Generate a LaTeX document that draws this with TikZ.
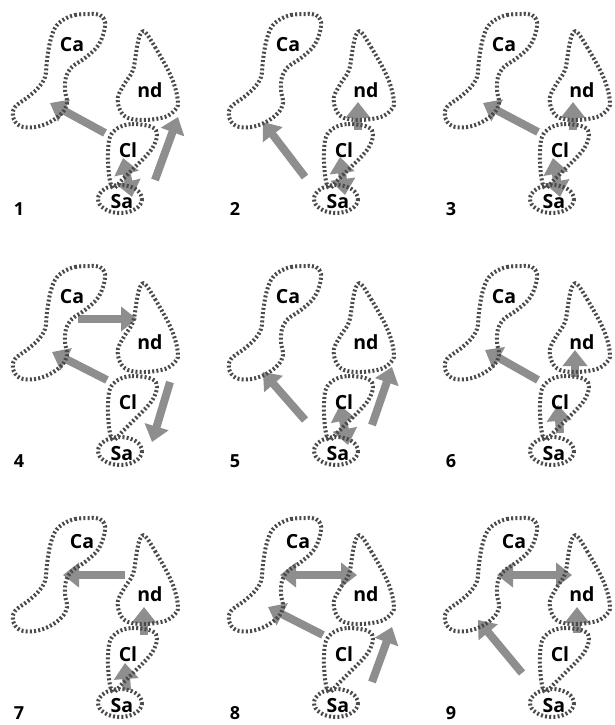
\documentclass[tikz,border=0pt]{standalone}
\usepackage{fontspec}
\setmainfont{Open Sans}
\usetikzlibrary{arrows.meta}
\definecolor{arr}{HTML}{8E8E8E}
\definecolor{dotc}{HTML}{4A4A4A}
\tikzset{
  blob/.style={draw=dotc, line width=4pt, dash pattern=on 2pt off 2.2pt},
  garrow/.style={draw=arr, line width=8pt, -{Triangle[length=16pt,width=24pt]}},
  gdouble/.style={draw=arr, line width=8pt, {Triangle[length=16pt,width=24pt]}-{Triangle[length=16pt,width=24pt]}},
  lab/.style={font=\bfseries\fontsize{19.5}{19.5}\selectfont, inner sep=0pt},
  num/.style={font=\bfseries\fontsize{18}{18}\selectfont, inner sep=0pt},
}
\newcommand\garr[4]{\coordinate (#1t) at #2; \coordinate (#1h) at #3; \draw[#4] (#1t) -- (#1h);}
\newcommand\drawblobs[1]{%
  \draw[blob] plot[smooth cycle, tension=0.6] coordinates {(63,20) (75,15) (90,14) (100,15) (105,22) (103,35) (97,47) (85,58) (72,67) (66,77) (65,90) (67,103) (62,113) (50,122) (35,127) (20,126) (13,117) (15,107) (28,97) (38,88) (45,77) (47,60) (50,42) (55,28)};
  \draw[blob] plot[smooth cycle, tension=0.6] coordinates {(145,32) (155,47) (168,70) (175,87) (178,103) (175,110) (165,117) (145,120) (128,118) (120,110) (118,97) (125,83) (133,70) (137,47) (140,35)};
  \draw[blob] plot[smooth cycle, tension=0.6] coordinates {(118,128) (132,124) (152,127) (157,135) (153,147) (145,157) (135,167) (122,180) (113,188) (109,175) (108,153) (110,137)};
  \draw[blob] (120,199) ellipse [x radius=22, y radius=14];
}
\begin{document}
\begin{tikzpicture}[x=1pt, y=-1pt]
\useasboundingbox (0,0) rectangle (615,725);
% ---- arrows (drawn first, outlines on top)
\begin{scope}[shift={(0,0)}]
  \garr{p1a}{(105,133)}{(50,103)}{garrow}
  \garr{p1b}{(155,180)}{(178,117)}{garrow}
  \garr{p1c}{(123,158)}{(132,197)}{gdouble}
\end{scope}
\begin{scope}[shift={(216,0)}]
  \garr{p2a}{(89,177)}{(47,122)}{garrow}
  \garr{p2b}{(142,130)}{(142,102)}{garrow}
  \garr{p2c}{(124,157)}{(129,195)}{gdouble}
\end{scope}
\begin{scope}[shift={(432,0)}]
  \garr{p3a}{(106,132)}{(51,103)}{garrow}
  \garr{p3b}{(141,130)}{(141,102)}{garrow}
  \garr{p3c}{(121,158)}{(128,197)}{gdouble}
\end{scope}
\begin{scope}[shift={(0,252)}]
  \garr{p4a}{(78,67)}{(137,67)}{garrow}
  \garr{p4b}{(107,128)}{(52,100)}{garrow}
  \garr{p4c}{(170,130)}{(152,190)}{garrow}
\end{scope}
\begin{scope}[shift={(216,252)}]
  \garr{p5a}{(89,168)}{(47,120)}{garrow}
  \garr{p5b}{(156,173)}{(176,115)}{garrow}
  \garr{p5c}{(124,153)}{(132,193)}{gdouble}
\end{scope}
\begin{scope}[shift={(432,252)}]
  \garr{p6a}{(106,128)}{(53,98)}{garrow}
  \garr{p6b}{(143,125)}{(143,98)}{garrow}
  \garr{p6c}{(128,181)}{(126,153)}{garrow}
\end{scope}
\begin{scope}[shift={(0,504)}]
  \garr{p7a}{(125,71)}{(63,71)}{garrow}
  \garr{p7b}{(144,131)}{(144,103)}{garrow}
  \garr{p7c}{(127,186)}{(125,159)}{garrow}
\end{scope}
\begin{scope}[shift={(216,504)}]
  \garr{p8a}{(64,71)}{(141,71)}{gdouble}
  \garr{p8b}{(107,131)}{(52,103)}{garrow}
  \garr{p8c}{(156,178)}{(176,123)}{garrow}
\end{scope}
\begin{scope}[shift={(432,504)}]
  \garr{p9a}{(65,71)}{(140,71)}{gdouble}
  \garr{p9b}{(145,129)}{(145,103)}{garrow}
  \garr{p9c}{(90,169)}{(46,116)}{garrow}
\end{scope}
% ---- outlines and labels
\foreach \p/\dx/\dy/\cx/\cy in {1/0/0/72/45, 2/216/0/72/45, 3/432/0/72/45, 4/0/252/72/45, 5/216/252/72/45, 6/432/252/72/45, 7/0/504/82/38, 8/216/504/82/38, 9/432/504/82/38}{
  \begin{scope}[shift={(\dx,\dy)}]
    \drawblobs{\p}
    \node[lab] (ca\p) at (\cx,\cy) {Ca};
    \node[lab] (nd\p) at (150,90) {nd};
    \node[lab] (cl\p) at (128,150) {Cl};
    \node[lab] (sa\p) at (122,202) {Sa};
    \node[num] (n\p) at (19,209) {\p};
  \end{scope}
}
\end{tikzpicture}
\end{document}
